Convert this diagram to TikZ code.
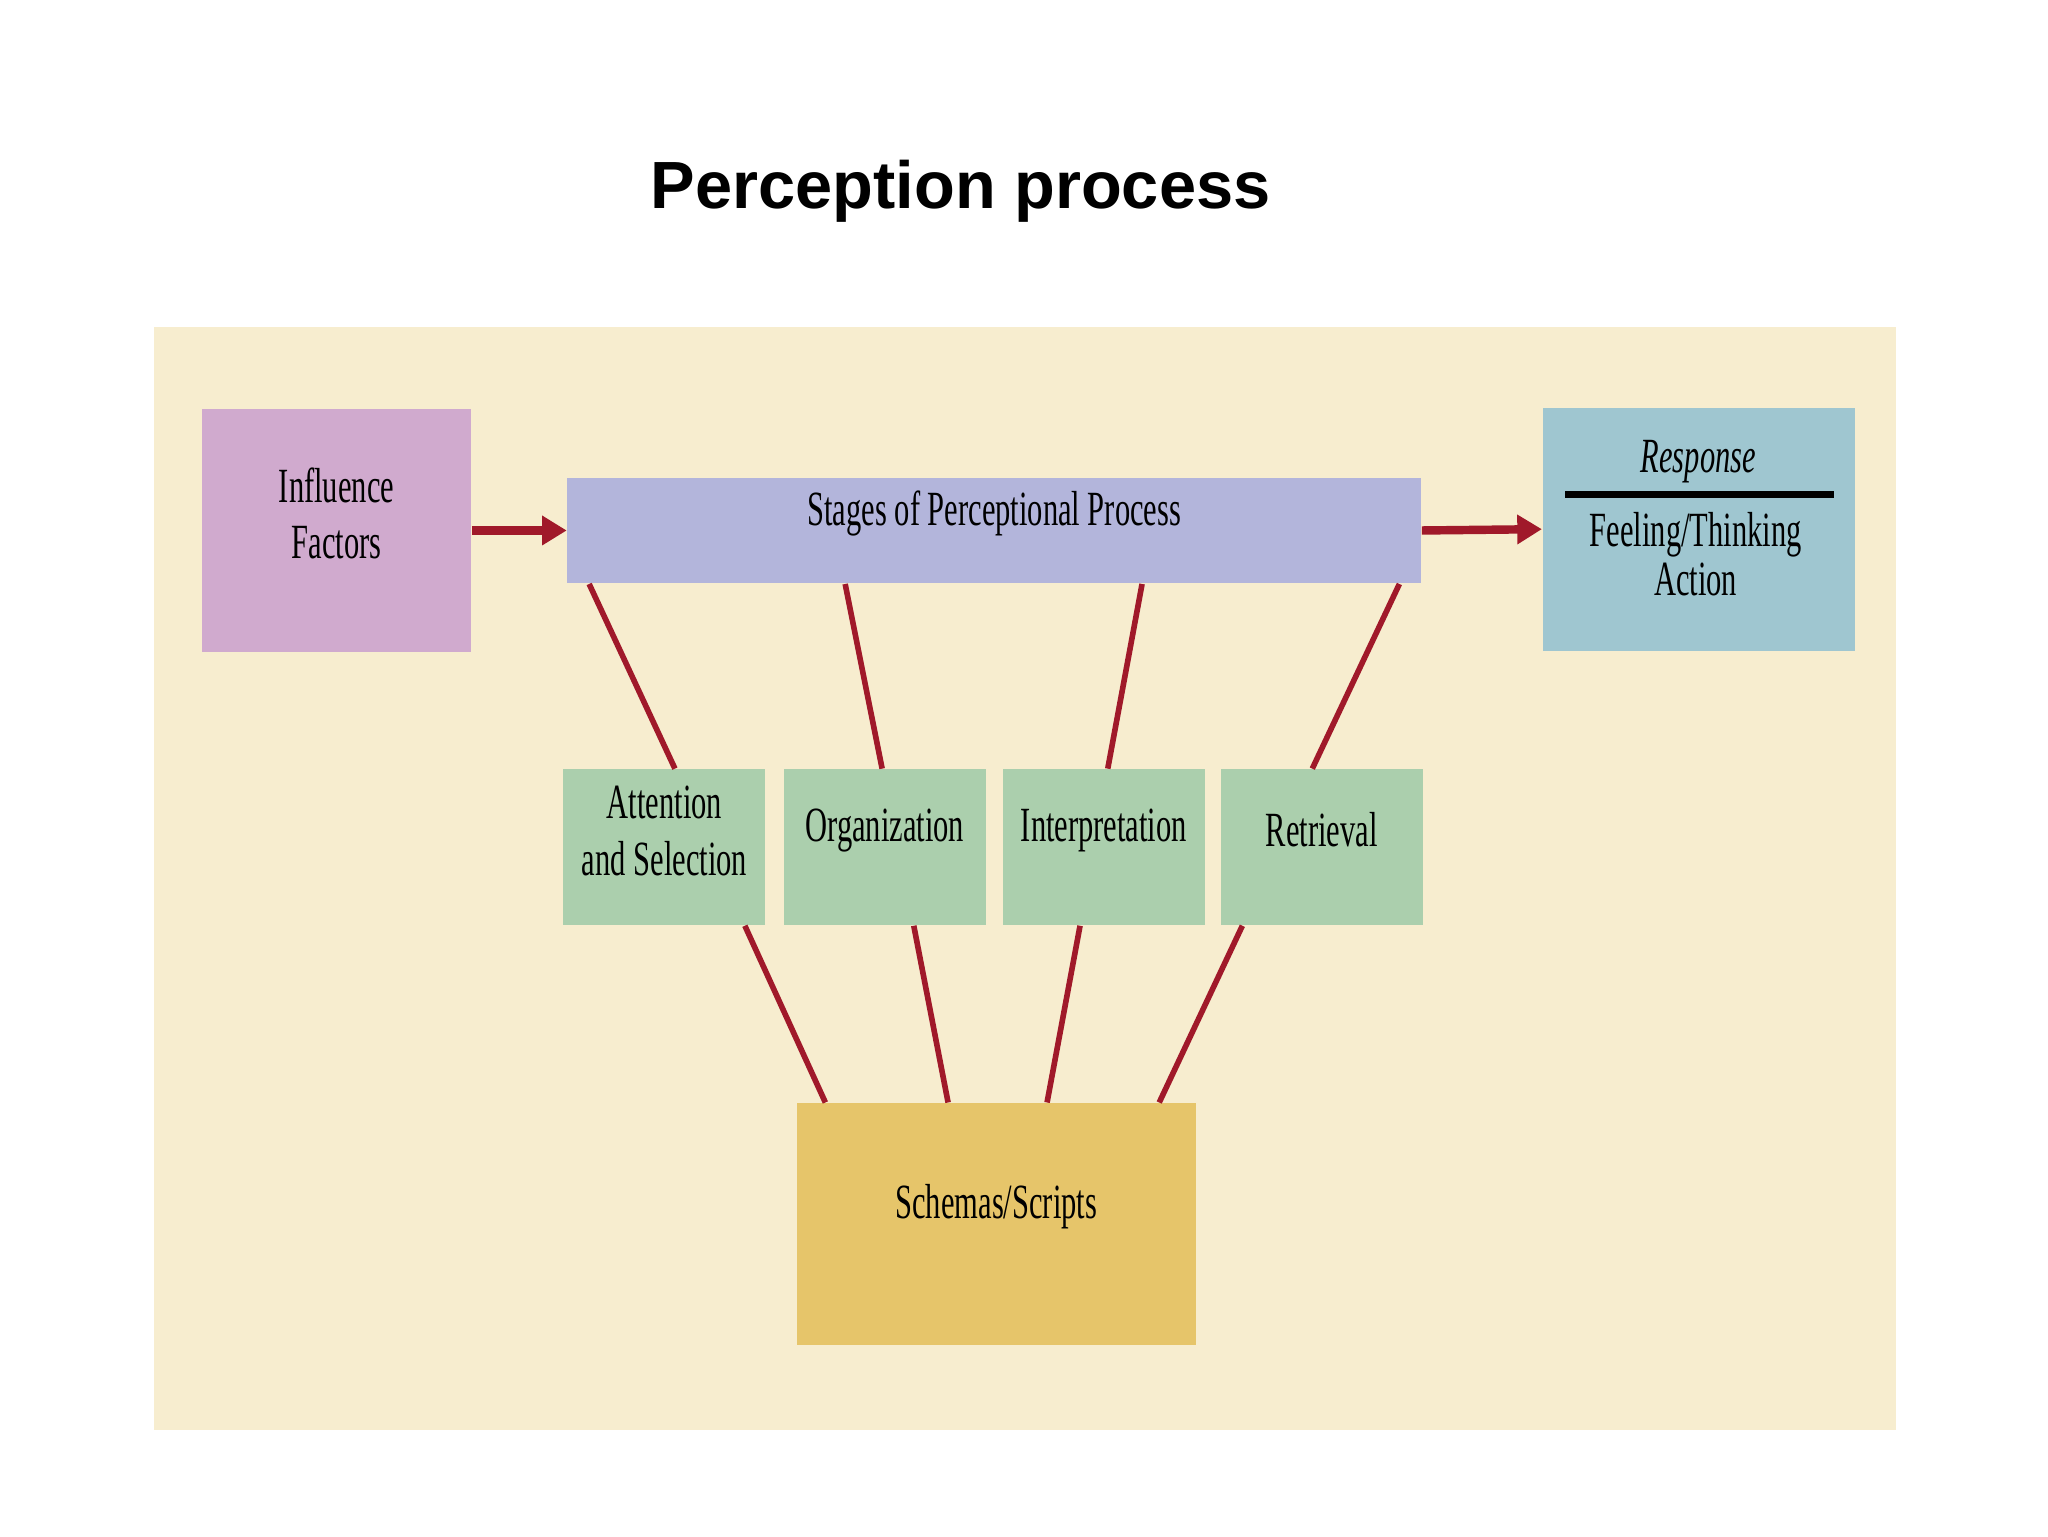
\documentclass[tikz,border=0pt]{standalone}
\usepackage{fontspec}
\setmainfont{Liberation Serif}
\newfontfamily\cond{Liberation Serif}[FakeStretch=0.62]
\newfontfamily\hel{Liberation Sans}
\usetikzlibrary{fit,calc,arrows.meta}
\definecolor{bg}{HTML}{F7EDCF}
\definecolor{inf}{HTML}{D0AACE}
\definecolor{stg}{HTML}{B3B5DB}
\definecolor{rsp}{HTML}{9FC6D0}
\definecolor{grn}{HTML}{ABCFAD}
\definecolor{sch}{HTML}{E6C56A}
\definecolor{red}{HTML}{A0192A}
\begin{document}
\begin{tikzpicture}[x=0.0132cm,y=-0.0132cm,
  box/.style={inner sep=0pt,align=center,font=\cond\fontsize{14}{16}\selectfont},
  link/.style={red,line width=1.6pt},
  arr/.style={red,line width=2.4pt,-{Triangle[length=7pt,width=8pt]}}]
\useasboundingbox (0,0) rectangle (1552,1164);
\fill[white] (0,0) rectangle (1552,1164);
\node[font=\hel\bfseries\fontsize{19}{22}\selectfont] (title) at (728,145) {Perception process};
\fill[bg] (117,248) rectangle (1437,1084);
\node[box,fill=inf,fit={(153,310)(357,494)}] (inf) {Influence\\Factors};
\node[box,fill=stg,fit={(430,362)(1077,442)}] (st) {Stages of Perceptional Process};
\node[box,fill=rsp,fit={(1169,309)(1406,493)}] (rs) {};
\node[box] (rt) at (1287,350) {\itshape Response};
\node[box] (rb) at (1285,420) {Feeling/Thinking\\[-2pt]Action};
\draw[line width=2pt] (1186,375) -- (1390,375);
\node[box,fill=grn,fit={(427,583)(580,701)}] (g1) {Attention\\and Selection};
\node[box,fill=grn,fit={(594,583)(747,701)}] (g2) {Organization};
\node[box,fill=grn,fit={(760,583)(913,701)}] (g3) {Interpretation};
\node[box,fill=grn,fit={(925,583)(1078,701)}] (g4) {Retrieval};
\node[box,fill=sch,fit={(604,836)(906,1019)}] (sc) {Schemas/Scripts};
\draw[link] ($(st.south west)+(17,0)$) -- ($(g1.north west)+(85,0)$);
\draw[link] ($(st.south west)+(211,0)$) -- ($(g2.north west)+(75,0)$);
\draw[link] ($(st.south west)+(436,0)$) -- ($(g3.north west)+(80,0)$);
\draw[link] ($(st.south west)+(631,0)$) -- ($(g4.north west)+(70,0)$);
\draw[link] ($(g1.south west)+(138,0)$) -- ($(sc.north west)+(22,0)$);
\draw[link] ($(g2.south west)+(99,0)$) -- ($(sc.north west)+(115,0)$);
\draw[link] ($(g3.south west)+(59,0)$) -- ($(sc.north west)+(190,0)$);
\draw[link] ($(g4.south west)+(17,0)$) -- ($(sc.north west)+(275,0)$);
\draw[arr] (inf.east) -- (st.west);
\draw[arr] (st.east) -- (rs.west);
\end{tikzpicture}
\end{document}
